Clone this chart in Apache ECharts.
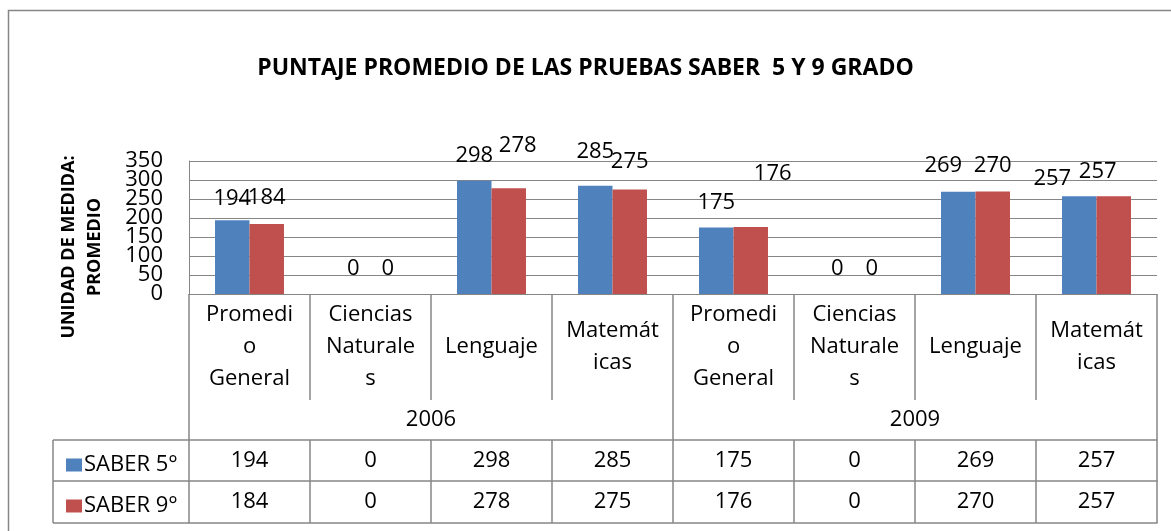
<!DOCTYPE html>
<html>
<head>
<meta charset="utf-8">
<script src="https://cdn.jsdelivr.net/npm/echarts@6/dist/echarts.min.js"></script>
<style>
html,body{margin:0;padding:0;background:#fff;}
#chart{width:1171px;height:531px;}
</style>
</head>
<body>
<div id="chart"></div>
<script>
// ---- data ----
var categories = ['Promedi\no\nGeneral', 'Ciencias\nNaturale\ns', 'Lenguaje', 'Matemát\nicas',
                  'Promedi\no\nGeneral', 'Ciencias\nNaturale\ns', 'Lenguaje', 'Matemát\nicas'];
var years = ['2006', '2009'];
var seriesNames = ['SABER 5°', 'SABER 9°'];
var saber5 = [194, 0, 298, 285, 175, 0, 269, 257];
var saber9 = [184, 0, 278, 275, 176, 0, 270, 257];
var yTicks = [0, 50, 100, 150, 200, 250, 300, 350];

// ---- style: label nudges [dx, dy] mimicking the original label placement ----
var nudge5 = [[0, 3], [0, 0], [0, 0], [0, -9], [0, 0], [0, 0], [-15, -1], [-27, 7]];
var nudge9 = [[0, -1], [0, 0], [9, -18], [0, -3], [22, -28], [0, 0], [0, -1], [-16, 0]];

var FONT = '"Open Sans", "Noto Sans", sans-serif';
var GRAY = '#868686';
var FS = 22;

function withNudge(values, nudges) {
  return values.map(function (v, i) {
    return { value: v, label: { offset: nudges[i] } };
  });
}
// the tick labels are crowded: split them over two overlaid axes so none is auto-hidden
var yTicksA = yTicks.filter(function (v, i) { return i % 2 === 0; });
var yTicksB = yTicks.filter(function (v, i) { return i % 2 === 1; });

function yLabel(values) {
  return {
    fontFamily: FONT, fontSize: FS, color: '#000', margin: 26,
    customValues: values, showMinLabel: true, showMaxLabel: true, hideOverlap: false
  };
}

var chart = echarts.init(document.getElementById('chart'), null, { renderer: 'canvas' });

var option = {
  animation: false,
  backgroundColor: '#fff',
  textStyle: { fontFamily: FONT },
  title: {
    text: 'PUNTAJE PROMEDIO DE LAS PRUEBAS SABER  5 Y 9 GRADO',
    left: 'center',
    top: 52,
    textStyle: { fontFamily: FONT, fontWeight: 'bold', fontSize: 23, color: '#000' }
  },
  legend: {
    orient: 'vertical',
    left: 61,
    top: 449,
    itemWidth: 16,
    itemHeight: 13,
    itemGap: 19,
    icon: 'rect',
    data: seriesNames,
    textStyle: { fontFamily: FONT, fontSize: FS, color: '#000', lineHeight: 22, padding: [0, 0, 0, -3] }
  },
  grid: { left: 189, top: 161, width: 968, height: 133, containLabel: false },
  yAxis: [
    {
      type: 'value', position: 'left',
      min: 0, max: 350, interval: 50,
      axisLine: { show: true, onZero: false, lineStyle: { color: GRAY, width: 1 } },
      axisTick: { show: false },
      splitLine: { show: true, lineStyle: { color: GRAY, width: 1 } },
      axisLabel: yLabel(yTicksA)
    },
    {
      type: 'value', position: 'left', offset: 0,
      min: 0, max: 350, interval: 50,
      axisLine: { show: false, onZero: false },
      axisTick: { show: false },
      splitLine: { show: false },
      axisLabel: yLabel(yTicksB)
    }
  ],
  xAxis: [
    {
      type: 'category', data: categories, position: 'bottom', boundaryGap: true,
      axisLine: { show: true, onZero: false, lineStyle: { color: GRAY, width: 1 } },
      axisTick: { show: true, interval: 0, length: 106, lineStyle: { color: GRAY, width: 1.5 } },
      axisLabel: { interval: 0, fontFamily: FONT, fontSize: FS, lineHeight: 32, color: '#000',
                   verticalAlign: 'middle', margin: 53, hideOverlap: false }
    },
    {
      type: 'category', data: years, position: 'bottom', offset: 106, boundaryGap: true,
      axisLine: { show: false, onZero: false },
      axisTick: { show: true, interval: 0, length: 40, lineStyle: { color: GRAY, width: 1.5 } },
      axisLabel: { interval: 0, fontFamily: FONT, fontSize: FS, color: '#000', verticalAlign: 'middle', margin: 20 }
    },
    {
      type: 'category', data: saber5.map(String), position: 'bottom', offset: 146, boundaryGap: true,
      axisLine: { show: true, onZero: false, lineStyle: { color: GRAY, width: 1.5 } },
      axisTick: { show: true, interval: 0, length: 41, lineStyle: { color: GRAY, width: 1.5 } },
      axisLabel: { interval: 0, fontFamily: FONT, fontSize: FS, color: '#000', verticalAlign: 'middle', margin: 21 }
    },
    {
      type: 'category', data: saber9.map(String), position: 'bottom', offset: 187, boundaryGap: true,
      axisLine: { show: true, onZero: false, lineStyle: { color: GRAY, width: 1.5 } },
      axisTick: { show: true, interval: 0, length: 42, lineStyle: { color: GRAY, width: 1.5 } },
      axisLabel: { interval: 0, fontFamily: FONT, fontSize: FS, color: '#000', verticalAlign: 'middle', margin: 21 }
    },
    {
      type: 'category', data: categories, position: 'bottom', offset: 229, boundaryGap: true,
      axisLine: { show: true, onZero: false, lineStyle: { color: GRAY, width: 1.5 } },
      axisTick: { show: false },
      axisLabel: { show: false }
    }
  ],
  series: [
    {
      name: seriesNames[0], type: 'bar', xAxisIndex: 0, yAxisIndex: 0,
      data: withNudge(saber5, nudge5),
      barGap: '0%', barCategoryGap: '43%',
      itemStyle: { color: '#4F81BD' },
      label: { show: true, position: 'top', distance: 14, fontFamily: FONT, fontSize: FS, color: '#000' }
    },
    {
      name: seriesNames[1], type: 'bar', xAxisIndex: 0, yAxisIndex: 0,
      data: withNudge(saber9, nudge9),
      barGap: '0%', barCategoryGap: '43%',
      itemStyle: { color: '#C0504D' },
      label: { show: true, position: 'top', distance: 14, fontFamily: FONT, fontSize: FS, color: '#000' }
    }
  ],
  graphic: [
    { type: 'rect', silent: true, z: -1,
      shape: { x: 8.5, y: 10.5, width: 1300, height: 700 },
      style: { fill: null, stroke: GRAY, lineWidth: 1.5 } },
    { type: 'text', silent: true, x: 82, y: 247, rotation: Math.PI / 2,
      style: { text: 'UNIDAD DE MEDIDA:\nPROMEDIO', fontFamily: FONT, fontWeight: 'bold',
               fontSize: 18, lineHeight: 26, fill: '#000', align: 'center', verticalAlign: 'middle' } },
    { type: 'line', silent: true, shape: { x1: 53, y1: 440, x2: 189, y2: 440 }, style: { stroke: GRAY, lineWidth: 1.5 } },
    { type: 'line', silent: true, shape: { x1: 53, y1: 481, x2: 189, y2: 481 }, style: { stroke: GRAY, lineWidth: 1.5 } },
    { type: 'line', silent: true, shape: { x1: 53, y1: 523, x2: 189, y2: 523 }, style: { stroke: GRAY, lineWidth: 1.5 } },
    { type: 'line', silent: true, shape: { x1: 53, y1: 440, x2: 53, y2: 523 }, style: { stroke: GRAY, lineWidth: 1.5 } }
  ]
};

chart.setOption(option);
</script>
</body>
</html>
